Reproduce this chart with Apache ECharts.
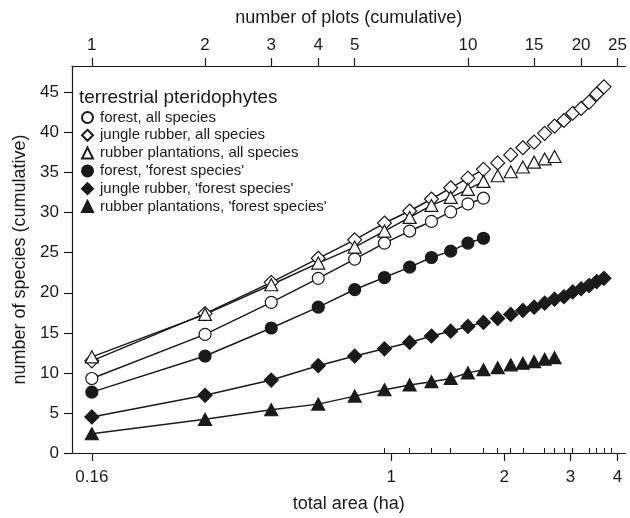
<!DOCTYPE html>
<html><head><meta charset="utf-8">
<script src="https://cdn.jsdelivr.net/npm/echarts@6/dist/echarts.min.js"></script>
<style>html,body{margin:0;padding:0;background:#fff}#c{width:630px;height:518px}</style>
</head><body><div id="c"></div>
<script>
// ---- data ----
const plotNumbers = [1,2,3,4,5,6,7,8,9,10,11,12,13,14,15,16,17,18,19,20,21,22,23];
const areaTicks = [0.16, 1, 2, 3, 4];
const plotTicks = [1, 2, 3, 4, 5, 10, 15, 20, 25];
const plotMinorTicks = [6,7,8,9,11,12,13,14,16,17,18,19,21,22,23,24];
const yTicks = [0,5,10,15,20,25,30,35,40,45];
const fittedPlots = 11; // lines are drawn over the first 11 plots

const forestAll   = [9.3, 14.8, 18.8, 21.8, 24.2, 26.2, 27.7, 28.9, 30.1, 31.1, 31.8];
const jungleAll   = [11.5, 17.4, 21.3, 24.3, 26.6, 28.7, 30.2, 31.7, 33.1, 34.3, 35.4, 36.2, 37.2, 38.1, 38.8, 39.9, 40.8, 41.5, 42.4, 43.0, 43.8, 44.8, 45.7];
const rubberAll   = [12.0, 17.3, 21.0, 23.7, 25.7, 27.7, 29.4, 30.9, 31.9, 32.9, 33.9, 34.6, 35.1, 35.7, 36.3, 36.7, 37.0];
const forestFS    = [7.6, 12.1, 15.6, 18.2, 20.4, 21.9, 23.2, 24.4, 25.2, 26.2, 26.8];
const jungleFS    = [4.5, 7.2, 9.1, 10.9, 12.1, 13.0, 13.8, 14.6, 15.2, 15.8, 16.3, 16.8, 17.3, 17.8, 18.2, 18.7, 19.2, 19.5, 20.1, 20.5, 20.9, 21.4, 21.8];
const rubberFS    = [2.4, 4.2, 5.4, 6.1, 7.1, 7.9, 8.5, 8.9, 9.3, 10.0, 10.4, 10.65, 11.0, 11.2, 11.4, 11.7, 11.9];

const seriesNames = [
  'forest, all species',
  'jungle rubber, all species',
  'rubber plantations, all species',
  "forest, 'forest species'",
  "jungle rubber, 'forest species'",
  "rubber plantations, 'forest species'"
];
const seriesValues = [forestAll, jungleAll, rubberAll, forestFS, jungleFS, rubberFS];

// ---- styles ----
const INK = '#1a1a1a';
const FONT = "'Liberation Sans', Arial, Helvetica, sans-serif";
const symbolStyles = [
  {symbol: 'circle', size: 12, fill: '#fff'},
  {symbol: 'diamond', size: 14, fill: '#fff'},
  {symbol: 'triangle', size: [13, 12], fill: '#fff'},
  {symbol: 'circle', size: 12, fill: INK},
  {symbol: 'diamond', size: 14, fill: INK},
  {symbol: 'triangle', size: [13, 12], fill: INK}
];

const AREA_PER_PLOT = 0.16;
const plotMin = 0.8856, plotMax = 26.27;

const series = [];
seriesValues.forEach((vals, i) => {
  const pts = vals.map((v, k) => [plotNumbers[k], v]);
  series.push({
    name: seriesNames[i] + ' (line)',
    type: 'line', xAxisIndex: 1, yAxisIndex: 0,
    data: pts.slice(0, fittedPlots),
    showSymbol: false, symbol: 'none', silent: true, z: 2,
    lineStyle: {color: INK, width: 1.5}
  });
});
seriesValues.forEach((vals, i) => {
  const pts = vals.map((v, k) => [plotNumbers[k], v]);
  const st = symbolStyles[i];
  series.push({
    name: seriesNames[i],
    type: 'scatter', xAxisIndex: 1, yAxisIndex: 0,
    data: pts, symbol: st.symbol, symbolSize: st.size, z: 3,
    itemStyle: {color: st.fill, borderColor: INK, borderWidth: 1.2, opacity: 1}
  });
});

const tickText = {color: INK, fontSize: 17, fontFamily: FONT};
const nameText = {color: INK, fontSize: 18, fontFamily: FONT};

const option = {
  animation: false,
  backgroundColor: '#fff',
  textStyle: {fontFamily: FONT, color: INK},
  title: {
    text: 'terrestrial pteridophytes', left: 79, top: 88, padding: 0,
    textStyle: {fontSize: 19, fontWeight: 'normal', color: INK, fontFamily: FONT}
  },
  legend: {
    data: seriesNames, orient: 'vertical', left: 81, top: 110, padding: 0,
    itemWidth: 11, itemHeight: 11, itemGap: 2.8,
    textStyle: {fontSize: 15, lineHeight: 15, color: INK, fontFamily: FONT, padding: [0, 0, 0, 2]},
    selectedMode: false
  },
  grid: {left: 72, right: 0, top: 66, bottom: 62, containLabel: false},
  xAxis: [
    {
      type: 'log', logBase: 10, position: 'bottom',
      min: plotMin * AREA_PER_PLOT, max: plotMax * AREA_PER_PLOT,
      name: 'total area (ha)', nameLocation: 'middle', nameGap: 42,
      nameTextStyle: nameText,
      axisLine: {show: true, onZero: false, lineStyle: {color: INK, width: 1.2}},
      axisTick: {show: true, length: 8, customValues: areaTicks, lineStyle: {color: INK, width: 1.2}},
      axisLabel: {customValues: areaTicks, margin: 16, ...tickText,
        formatter: v => String(+(+v).toFixed(2))},
      splitLine: {show: false}, minorTick: {show: false}
    },
    {
      type: 'log', logBase: 10, position: 'top',
      min: plotMin, max: plotMax,
      name: 'number of plots (cumulative)', nameLocation: 'middle', nameGap: 39,
      nameTextStyle: nameText,
      axisLine: {show: true, onZero: false, lineStyle: {color: INK, width: 1.2}},
      axisTick: {show: true, length: 8, customValues: plotTicks, lineStyle: {color: INK, width: 1.2}},
      axisLabel: {customValues: plotTicks, margin: 12, ...tickText,
        formatter: v => String(Math.round(v))},
      splitLine: {show: false}
    },
    {
      type: 'log', logBase: 10, position: 'top',
      min: plotMin, max: plotMax,
      axisLine: {show: false},
      axisTick: {show: true, length: 5, customValues: plotMinorTicks, lineStyle: {color: INK, width: 1}},
      axisLabel: {show: false},
      splitLine: {show: false}
    }
  ],
  yAxis: [{
    type: 'value', min: 0, max: 48.3,
    name: 'number of species (cumulative)', nameLocation: 'middle', nameGap: 40,
    nameTextStyle: nameText,
    axisLine: {show: true, onZero: false, lineStyle: {color: INK, width: 1.2}},
    axisTick: {show: true, length: 8, customValues: yTicks, lineStyle: {color: INK, width: 1.2}},
    axisLabel: {customValues: yTicks, margin: 13, ...tickText},
    splitLine: {show: false}
  }],
  series: series
};

const chart = echarts.init(document.getElementById('c'), null, {renderer: 'canvas'});
chart.setOption(option);
</script>
</body></html>
